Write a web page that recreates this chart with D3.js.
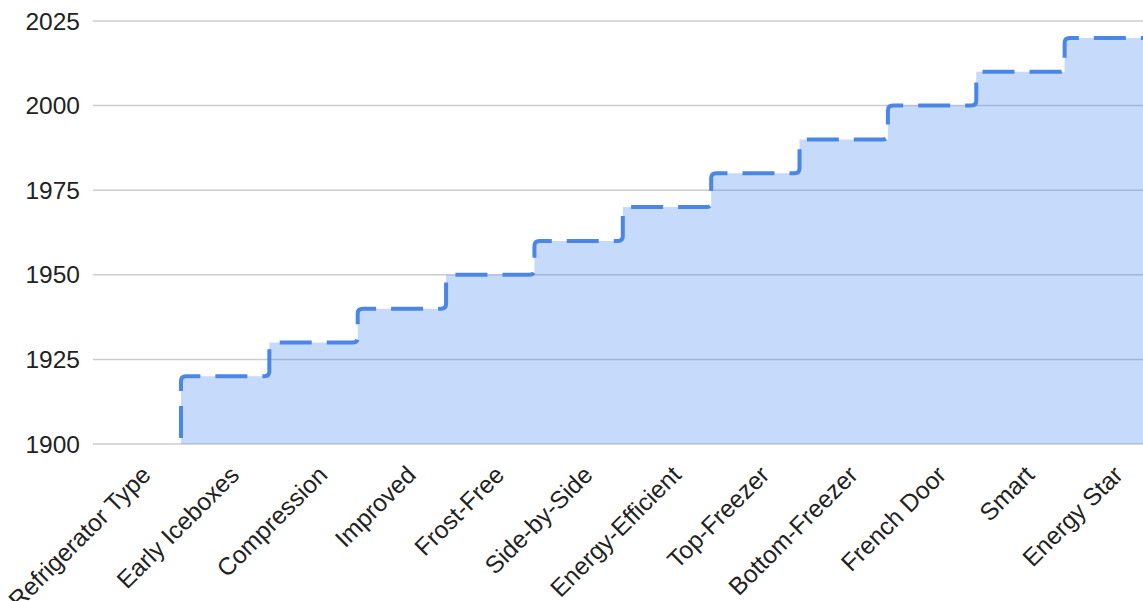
<!DOCTYPE html>
<html>
<head>
<meta charset="utf-8">
<script src="https://cdn.jsdelivr.net/npm/d3@7"></script>
<style>
  body { margin: 0; background: #fff; }
  text { font-family: Arial, "Liberation Sans", sans-serif; fill: #222; }
</style>
</head>
<body>
<svg id="canvas"></svg>
<script>
const width = 1143;
const height = 601;

const categories = ["Refrigerator Type", "Early Iceboxes", "Compression", "Improved", "Frost-Free",
  "Side-by-Side", "Energy-Efficient", "Top-Freezer", "Bottom-Freezer", "French Door", "Smart", "Energy Star"];
const years = [null, 1920, 1930, 1940, 1950, 1960, 1970, 1980, 1990, 2000, 2010, 2020];
const yTicks = [1900, 1925, 1950, 1975, 2000, 2025];

let svg = d3.select("#canvas").attr("width", width).attr("height", height);

const x = d3.scaleBand().domain(categories).range([92.6, 1153]).padding(0);
const y = d3.scaleLinear().domain([1900, 2025]).range([444, 21]);

// gridlines
svg.append("g").selectAll("line")
  .data(yTicks)
  .enter()
  .append("line")
  .attr("x1", 93).attr("x2", width)
  .attr("y1", d => y(d)).attr("y2", d => y(d))
  .attr("stroke", "#ccc").attr("stroke-width", 1.5);

// y labels
svg.append("g").selectAll("text")
  .data(yTicks)
  .enter()
  .append("text")
  .attr("x", 80)
  .attr("y", d => y(d))
  .attr("dy", "0.35em")
  .attr("text-anchor", "end")
  .style("font-size", "24.5px")
  .text(d => d);

// step path with small rounded corners
const r = 5;
const pts = categories.map((c, i) => ({ c, v: years[i] })).filter(d => d.v != null);
let line = `M${x(pts[0].c)},${y(1900)}`;
let area = line;
pts.forEach((d, i) => {
  const x0 = x(d.c), x1 = x0 + x.bandwidth(), yy = y(d.v);
  line += `V${yy + r}Q${x0},${yy} ${x0 + r},${yy}`;
  if (i < pts.length - 1) line += `H${x1 - r}Q${x1},${yy} ${x1},${yy - r}`;
  else line += `H${x1}`;
  area += `V${yy}H${x1}`;
});
area += `V${y(1900)}Z`;

svg.append("path")
  .attr("d", area)
  .attr("fill", "#4285f4")
  .attr("fill-opacity", 0.3);

svg.append("path")
  .attr("d", line)
  .attr("fill", "none")
  .attr("stroke", "#4a86e8")
  .attr("stroke-width", 4)
  .attr("stroke-linejoin", "round")
  .attr("stroke-dasharray", "32 15")
  .attr("stroke-dashoffset", 41);

// x labels
svg.append("g").selectAll("text")
  .data(categories)
  .enter()
  .append("text")
  .attr("transform", d => `translate(${x(d) + x.bandwidth() / 2 + 3},464) rotate(-45)`)
  .attr("dy", "0.72em")
  .attr("text-anchor", "end")
  .style("font-size", "24.5px")
  .text(d => d);
</script>
</body>
</html>
